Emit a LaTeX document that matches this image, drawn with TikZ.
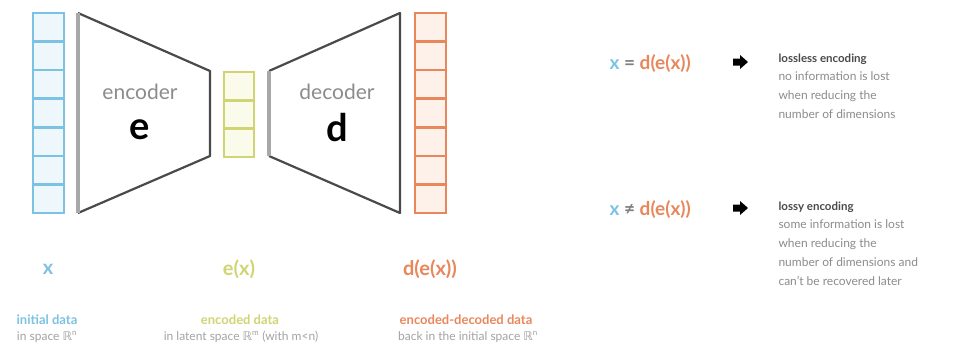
\documentclass[tikz,border=0pt]{standalone}
\usepackage{fontspec}
\setmainfont{Lato}
\newfontfamily\dejavu{DejaVu Sans}
\newcommand{\RR}{{\dejavu ℝ}}
\definecolor{cblue}{HTML}{7CC2E2}
\definecolor{cbluefill}{HTML}{EEF8FC}
\definecolor{cyel}{HTML}{D0D472}
\definecolor{cyelfill}{HTML}{FAFBEA}
\definecolor{corg}{HTML}{E8875C}
\definecolor{corgfill}{HTML}{FDF1EA}
\definecolor{cdark}{HTML}{4A4A4A}
\definecolor{cedge}{HTML}{A8A8A8}
\definecolor{ctext}{HTML}{8C8C8C}
\tikzset{
  colbox/.style={line width=2.6pt},
  netline/.style={draw=cdark, line width=2.2pt, line join=round},
  netedge/.style={draw=cedge, line width=3.2pt},
  netname/.style={text=ctext, font=\fontsize{21}{21}\selectfont},
  netsym/.style={text=black, font=\fontsize{38}{38}\selectfont\bfseries},
  varlbl/.style={font=\fontsize{20}{20}\selectfont\bfseries},
  headlbl/.style={font=\fontsize{13}{13}\selectfont\bfseries, anchor=base},
  sublbl/.style={text=ctext!80, font=\fontsize{12}{12}\selectfont, anchor=base},
  eqlbl/.style={font=\fontsize{19}{19}\selectfont\bfseries, anchor=base west},
  ttl/.style={text=cdark, font=\fontsize{11.5}{11.5}\selectfont\bfseries, anchor=base west},
  desc/.style={text=ctext, font=\fontsize{12}{12}\selectfont, anchor=base west}
}
\begin{document}
\begin{tikzpicture}[x=1pt,y=-1pt]
\useasboundingbox[fill=white] (0,0) rectangle (953,348);
% input column
\draw[colbox, draw=cblue, fill=cbluefill] (33,13) rectangle (64,213);
\foreach \i in {1,...,6} \draw[colbox, draw=cblue] (33,{13+\i*200/7}) -- (64,{13+\i*200/7});
% encoder
\draw[netline] (78,13) -- (210,71) -- (210,156) -- (78,213);
\draw[netedge] (78,13) -- (78,213);
\node[netname] (enc) at (140,92) {encoder};
\node[netsym] (e) at (140,130) {e};
% latent column
\draw[colbox, draw=cyel, fill=cyelfill] (224,72) rectangle (254,157);
\foreach \i in {1,2} \draw[colbox, draw=cyel] (224,{72+\i*85/3}) -- (254,{72+\i*85/3});
% decoder
\draw[netline] (269,71) -- (400,13) -- (400,213) -- (269,156);
\draw[netedge] (269,71) -- (269,156);
\node[netname] (dec) at (337,92) {decoder};
\node[netsym] (d) at (337,128) {d};
% output column
\draw[colbox, draw=corg, fill=corgfill] (415,13) rectangle (446,213);
\foreach \i in {1,...,6} \draw[colbox, draw=corg] (415,{13+\i*200/7}) -- (446,{13+\i*200/7});
% variable labels
\node[varlbl, text=cblue] (vx) at (48,269) {x};
\node[varlbl, text=cyel] (vex) at (239,269) {e(x)};
\node[varlbl, text=corg] (vdex) at (430,269) {d(e(x))};
% descriptions
\node[headlbl, text=cblue] (h1) at (47,324) {initial data};
\node[headlbl, text=cyel] (h2) at (240,324) {encoded data};
\node[headlbl, text=corg] (h3) at (466,324) {encoded-decoded data};
\node[sublbl] (s1) at (47,340) {in space \RR\textsuperscript{n}};
\node[sublbl] (s2) at (241,340) {in latent space \RR\textsuperscript{m} (with m<n)};
\node[sublbl] (s3) at (468,340) {back in the initial space \RR\textsuperscript{n}};
% right side
\node[eqlbl] (eq1) at (606,69) {\textcolor{cblue}{x} \textcolor{cdark!70}{=} \textcolor{corg}{d(e(x))}};
\fill[black] (733,58.5) -- (740,58.5) -- (740,55) -- (748,62) -- (740,69) -- (740,65.5) -- (733,65.5) -- cycle;
\node[ttl] (t1) at (775,62) {lossless encoding};
\node[desc] (d11) at (775,80) {no information is lost};
\node[desc] (d12) at (775,99) {when reducing the};
\node[desc] (d13) at (775,118) {number of dimensions};
\node[eqlbl] (eq2) at (606,215) {\textcolor{cblue}{x} \textcolor{cdark!70}{≠} \textcolor{corg}{d(e(x))}};
\fill[black] (733,204.5) -- (740,204.5) -- (740,201) -- (748,208) -- (740,215) -- (740,211.5) -- (733,211.5) -- cycle;
\node[ttl] (t2) at (775,210) {lossy encoding};
\node[desc] (d21) at (775,228) {some information is lost};
\node[desc] (d22) at (775,247) {when reducing the};
\node[desc] (d23) at (775,266) {number of dimensions and};
\node[desc] (d24) at (775,285) {can't be recovered later};
\end{tikzpicture}
\end{document}
